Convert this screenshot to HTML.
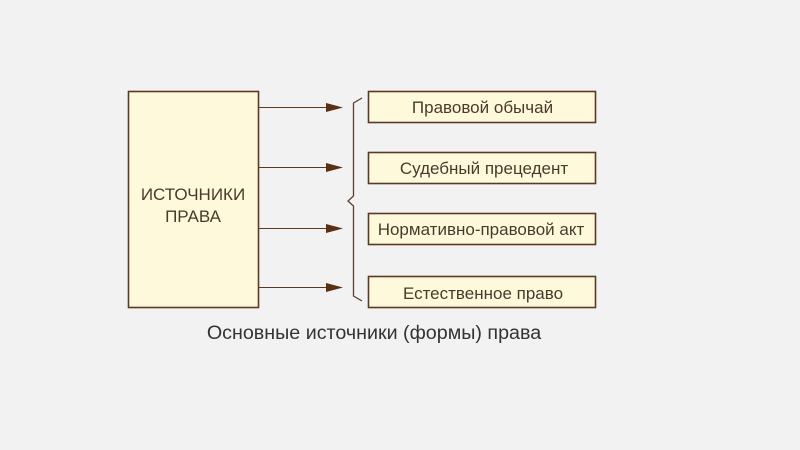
<!DOCTYPE html>
<html lang="ru">
<head>
<meta charset="utf-8">
<style>
html,body{margin:0;padding:0;background:#f2f2f2;}
svg{display:block;}
text{font-family:"Liberation Sans",sans-serif;}
</style>
</head>
<body>
<svg width="800" height="450" viewBox="0 0 800 450" xmlns="http://www.w3.org/2000/svg">
<rect width="800" height="450" fill="#f2f2f2"/>
<rect x="128.5" y="91.5" width="130" height="216" fill="#fff9dc" stroke="#5a3a22" stroke-width="1.6"/>
<text fill="#4a3a2c" font-size="17" text-anchor="middle"><tspan x="193" y="200">ИСТОЧНИКИ</tspan><tspan x="193" y="222">ПРАВА</tspan></text>
<g stroke="#5a3a22" stroke-width="1.1">
<line x1="258" y1="107.5" x2="330" y2="107.5"/>
<line x1="258" y1="167.5" x2="330" y2="167.5"/>
<line x1="258" y1="228.5" x2="330" y2="228.5"/>
<line x1="258" y1="287.5" x2="330" y2="287.5"/>
</g>
<g fill="#5a3010">
<polygon points="326,103 343,107.5 326,112"/>
<polygon points="326,163 343,167.5 326,172"/>
<polygon points="326,224 343,228.5 326,233"/>
<polygon points="326,283 343,287.5 326,292"/>
</g>
<path d="M362,98 L353.5,103 L353.5,196 L348,201 L353.5,206 L353.5,296 L362,301" fill="none" stroke="#5a4030" stroke-width="1.3"/>
<g fill="#fff9dc" stroke="#5a3a22" stroke-width="1.6">
<rect x="368.5" y="91.5" width="227" height="31"/>
<rect x="368.5" y="152.5" width="227" height="31"/>
<rect x="368.5" y="213.5" width="227" height="31"/>
<rect x="368.5" y="276.5" width="227" height="31"/>
</g>
<g fill="#4a3a2c" font-size="17" text-anchor="middle">
<text x="482.5" y="113">Правовой обычай</text>
<text x="484" y="174">Судебный прецедент</text>
<text x="481" y="235">Нормативно-правовой акт</text>
<text x="483" y="299">Естественное право</text>
</g>
<text x="374" y="339" fill="#333333" font-size="19.7" text-anchor="middle">Основные источники (формы) права</text>
</svg>
</body>
</html>
